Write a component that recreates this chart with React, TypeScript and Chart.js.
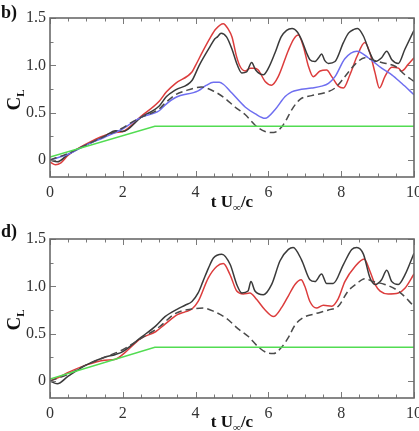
import React, { useEffect, useRef } from 'react';
import { Chart, registerables } from 'chart.js';

Chart.register(...registerables);

type Pt = [number, number];

// Axis ranges and tick labels
const X_MIN = 0;
const X_MAX = 10;
const Y_MIN = -0.18;
const Y_MAX = 1.5;
const xTickValues = [0, 2, 4, 6, 8, 10];
const yTickValues = [0, 0.5, 1, 1.5];
const xMinorStep = 0.5;
const yMinorStep = 0.25;

// Panel b) lift coefficient histories (t U∞/c, C_L)
const bBlack: Pt[] = [
  [0, 0], [0.2, -0.02], [0.5, 0.06], [1, 0.16], [1.5, 0.25], [1.8, 0.31], [2.0, 0.3], [2.5, 0.45],
  [3.0, 0.57], [3.2, 0.67], [3.45, 0.74], [3.9, 0.84], [4.1, 1.0], [4.4, 1.2], [4.53, 1.28], [4.6, 1.3],
  [4.7, 1.34], [4.85, 1.3], [5.0, 1.17], [5.15, 1.0], [5.27, 0.92], [5.4, 0.93], [5.54, 1.03], [5.65, 0.95],
  [5.86, 0.9], [6.0, 0.97], [6.18, 1.13], [6.35, 1.3], [6.5, 1.37], [6.65, 1.39], [6.8, 1.35], [6.91, 1.27],
  [7.05, 1.13], [7.14, 1.06], [7.28, 1.04], [7.38, 1.08], [7.46, 1.12], [7.55, 1.05], [7.65, 1.02], [7.83, 1.04],
  [8.06, 1.24], [8.2, 1.34], [8.35, 1.38], [8.45, 1.39], [8.61, 1.31], [8.79, 1.13], [8.93, 1.04], [9.11, 1.08],
  [9.25, 1.15], [9.39, 1.06], [9.57, 1.02], [9.75, 1.17], [10, 1.37],
];
const bRed: Pt[] = [
  [0, -0.02], [0.15, -0.05], [0.3, -0.03], [0.5, 0.05], [1, 0.17], [1.5, 0.26], [1.8, 0.29], [2.0, 0.3],
  [2.5, 0.46], [3.0, 0.62], [3.2, 0.72], [3.45, 0.81], [3.9, 0.93], [4.0, 1.0], [4.2, 1.15], [4.4, 1.29],
  [4.55, 1.38], [4.76, 1.44], [4.9, 1.38], [5.0, 1.3], [5.12, 1.1], [5.22, 0.99], [5.36, 0.94], [5.5, 0.97],
  [5.62, 0.97], [5.72, 0.95], [5.91, 0.83], [6.09, 0.79], [6.27, 0.88], [6.55, 1.16], [6.7, 1.28], [6.82, 1.32],
  [6.96, 1.2], [7.1, 0.99], [7.23, 0.88], [7.42, 0.94], [7.6, 0.95], [7.74, 0.88], [7.92, 0.78], [8.06, 0.76],
  [8.24, 0.9], [8.43, 1.09], [8.65, 1.24], [8.79, 1.13], [8.93, 0.92], [9.05, 0.76], [9.2, 0.88], [9.39, 0.98],
  [9.57, 0.97], [9.66, 0.94], [9.84, 1.01], [10, 1.08],
];
const bBlue: Pt[] = [
  [0, 0], [0.5, 0.06], [1, 0.16], [1.5, 0.24], [2, 0.33], [2.5, 0.45], [3, 0.52], [3.16, 0.58],
  [3.45, 0.66], [4.07, 0.73], [4.3, 0.79], [4.49, 0.82], [4.65, 0.82], [4.76, 0.8], [4.99, 0.71], [5.36, 0.56],
  [5.63, 0.49], [5.91, 0.44], [6.18, 0.53], [6.46, 0.67], [6.64, 0.72], [6.82, 0.74], [7.19, 0.76], [7.46, 0.78],
  [7.65, 0.81], [7.83, 0.88], [8.1, 1.07], [8.43, 1.15], [8.74, 1.08], [9.11, 0.97], [9.39, 0.9], [9.66, 0.81],
  [10, 0.69],
];
const bDashed: Pt[] = [
  [0, 0], [0.5, 0.07], [1, 0.16], [1.5, 0.25], [2, 0.34], [2.3, 0.41], [2.5, 0.45], [3, 0.54],
  [3.16, 0.6], [3.45, 0.69], [3.71, 0.73], [4.16, 0.77], [4.53, 0.72], [4.81, 0.65], [5.08, 0.56], [5.36, 0.48],
  [5.63, 0.37], [5.91, 0.3], [6.14, 0.29], [6.37, 0.35], [6.5, 0.43], [6.64, 0.53], [6.87, 0.64], [7.19, 0.68],
  [7.55, 0.71], [7.83, 0.76], [8.1, 0.88], [8.38, 1.01], [8.65, 1.08], [8.84, 1.06], [9.11, 1.03], [9.48, 0.99],
  [9.75, 0.9], [10, 0.83],
];
const bGreen: Pt[] = [[0, 0.03], [2.88, 0.355], [10, 0.355]];

// Panel d) lift coefficient histories
const dBlack: Pt[] = [
  [0, 0], [0.2, -0.03], [0.5, 0.05], [1, 0.17], [1.5, 0.25], [1.8, 0.28], [2, 0.31], [2.5, 0.46],
  [2.9, 0.58], [3.16, 0.68], [3.5, 0.76], [3.71, 0.8], [3.9, 0.84], [4.07, 0.93], [4.2, 1.05], [4.35, 1.19],
  [4.49, 1.3], [4.72, 1.34], [4.95, 1.23], [5.13, 1.02], [5.27, 0.93], [5.44, 0.95], [5.52, 1.05], [5.63, 0.95],
  [5.86, 0.91], [6.09, 1.02], [6.32, 1.27], [6.55, 1.39], [6.68, 1.41], [6.91, 1.28], [7.14, 1.07], [7.28, 1.05],
  [7.46, 1.13], [7.6, 1.03], [7.78, 1.03], [8.06, 1.23], [8.29, 1.39], [8.43, 1.41], [8.61, 1.34], [8.79, 1.09],
  [8.93, 1.02], [9.11, 1.07], [9.25, 1.17], [9.39, 1.05], [9.57, 1.02], [9.75, 1.12], [10, 1.35],
];
const dRed: Pt[] = [
  [0, 0], [0.3, 0.05], [0.5, 0.09], [1, 0.17], [1.5, 0.22], [1.8, 0.23], [2, 0.28], [2.5, 0.45],
  [2.9, 0.52], [3.16, 0.6], [3.5, 0.7], [3.71, 0.73], [3.9, 0.76], [4.07, 0.84], [4.35, 1.09], [4.58, 1.21],
  [4.76, 1.24], [4.95, 1.12], [5.13, 0.95], [5.31, 0.92], [5.49, 0.93], [5.68, 0.86], [5.91, 0.75], [6.14, 0.68],
  [6.37, 0.78], [6.55, 0.9], [6.73, 1.02], [6.9, 1.07], [7.0, 1.0], [7.14, 0.84], [7.32, 0.77], [7.51, 0.8],
  [7.74, 0.79], [7.92, 0.87], [8.1, 1.05], [8.38, 1.21], [8.63, 1.29], [8.79, 1.16], [8.93, 1.02], [9.07, 0.95],
  [9.29, 0.92], [9.57, 0.93], [9.75, 0.98], [10, 1.13],
];
const dDashed: Pt[] = [
  [0, 0], [0.5, 0.07], [1, 0.17], [1.5, 0.25], [2, 0.33], [2.3, 0.4], [2.5, 0.45], [3, 0.57],
  [3.43, 0.71], [3.89, 0.76], [4.21, 0.77], [4.53, 0.73], [4.85, 0.66], [5.17, 0.55], [5.45, 0.47], [5.72, 0.36],
  [5.95, 0.3], [6.14, 0.29], [6.37, 0.36], [6.55, 0.46], [6.73, 0.59], [6.96, 0.67], [7.28, 0.71], [7.65, 0.75],
  [7.92, 0.79], [8.19, 0.95], [8.43, 1.03], [8.65, 1.08], [8.88, 1.05], [9.2, 1.02], [9.57, 0.95], [10, 0.79],
];
const dGreen: Pt[] = [[0, 0.02], [2.88, 0.355], [10, 0.355]];

const BLACK = '#3a3a3a';
const RED = '#dc3c3c';
const BLUE = '#6e6ef0';
const GREEN = '#52dc52';
const DASHED = '#4a4a4a';

interface Series {
  pts: Pt[];
  color: string;
  dash?: number[];
  straight?: boolean;
}

interface PanelSpec {
  tag: string;
  height: number;
  top: number;
  bottom: number;
  tagBaseline: number;
  clCenter: number;
  titleBaseline: number;
  series: Series[];
}

const LEFT = 50;
const RIGHT = 414;
const WIDTH = 419;
const SERIF = '"Liberation Serif", "Times New Roman", serif';

const panels: PanelSpec[] = [
  {
    tag: 'b)', height: 215, top: 18, bottom: 177, tagBaseline: 18, clCenter: 100, titleBaseline: 207,
    series: [
      { pts: bGreen, color: GREEN, straight: true },
      { pts: bDashed, color: DASHED, dash: [7, 4] },
      { pts: bBlue, color: BLUE },
      { pts: bBlack, color: BLACK },
      { pts: bRed, color: RED },
    ],
  },
  {
    tag: 'd)', height: 216, top: 24, bottom: 183, tagBaseline: 22, clCenter: 105, titleBaseline: 212,
    series: [
      { pts: dGreen, color: GREEN, straight: true },
      { pts: dDashed, color: DASHED, dash: [7, 4] },
      { pts: dBlack, color: BLACK },
      { pts: dRed, color: RED },
    ],
  },
];

function decorPlugin(spec: PanelSpec) {
  return {
    id: 'panelDecor',
    afterDraw(chart: any) {
      const { ctx, chartArea: a, scales } = chart;
      const xs = scales.x;
      const ys = scales.y;
      ctx.save();

      // inward ticks on all four sides
      ctx.strokeStyle = '#7a7a7a';
      ctx.lineWidth = 1;
      ctx.beginPath();
      for (let v = X_MIN; v <= X_MAX + 1e-9; v += xMinorStep) {
        const px = Math.round(xs.getPixelForValue(v)) + 0.5;
        const major = xTickValues.some((t) => Math.abs(t - v) < 1e-6);
        const len = major ? 6 : 3.5;
        ctx.moveTo(px, a.bottom); ctx.lineTo(px, a.bottom - len);
        ctx.moveTo(px, a.top); ctx.lineTo(px, a.top + len);
      }
      for (let v = 0; v <= Y_MAX + 1e-9; v += yMinorStep) {
        const py = Math.round(ys.getPixelForValue(v)) + 0.5;
        const major = yTickValues.some((t) => Math.abs(t - v) < 1e-6);
        const len = major ? 6 : 3.5;
        ctx.moveTo(a.left, py); ctx.lineTo(a.left + len, py);
        ctx.moveTo(a.right, py); ctx.lineTo(a.right - len, py);
      }
      ctx.stroke();

      // frame
      ctx.strokeStyle = '#6a6a6a';
      ctx.lineWidth = 1.6;
      ctx.strokeRect(a.left, a.top, a.right - a.left, a.bottom - a.top);

      ctx.fillStyle = '#111';
      // panel tag
      ctx.font = `bold 18px ${SERIF}`;
      ctx.textAlign = 'left';
      ctx.textBaseline = 'alphabetic';
      ctx.fillText(spec.tag, 1, spec.tagBaseline);

      // x-axis title: t U∞/c
      const big = `bold 17px ${SERIF}`;
      const small = `bold 11px ${SERIF}`;
      const parts = [
        { s: 't U', f: big, dy: 0 },
        { s: '∞', f: small, dy: 4 },
        { s: '/c', f: big, dy: 0 },
      ];
      let total = 0;
      for (const p of parts) { ctx.font = p.f; total += ctx.measureText(p.s).width; }
      let x = (a.left + a.right) / 2 - total / 2;
      for (const p of parts) {
        ctx.font = p.f;
        ctx.fillText(p.s, x, spec.titleBaseline + p.dy);
        x += ctx.measureText(p.s).width;
      }

      // y-axis title: C_L rotated
      ctx.translate(20, spec.clCenter);
      ctx.rotate(-Math.PI / 2);
      ctx.font = `bold 19px ${SERIF}`;
      const wC = ctx.measureText('C').width;
      ctx.font = `bold 11px ${SERIF}`;
      const wL = ctx.measureText('L').width;
      const start = -(wC + wL) / 2;
      ctx.font = `bold 19px ${SERIF}`;
      ctx.fillText('C', start, 0);
      ctx.font = `bold 11px ${SERIF}`;
      ctx.fillText('L', start + wC, 4);

      ctx.restore();
    },
  };
}

function Panel({ spec }: { spec: PanelSpec }) {
  const ref = useRef<HTMLCanvasElement | null>(null);

  useEffect(() => {
    if (!ref.current) return;
    const tickFont = { family: SERIF, size: 16 };
    const chart = new Chart(ref.current, {
      type: 'line',
      data: {
        datasets: spec.series.map((s) => ({
          data: s.pts.map(([x, y]) => ({ x, y })),
          borderColor: s.color,
          borderWidth: 1.5,
          borderDash: s.dash || [],
          pointRadius: 0,
          fill: false,
          tension: s.straight ? 0 : 0.4,
          cubicInterpolationMode: s.straight ? ('default' as const) : ('monotone' as const),
        })),
      },
      options: {
        animation: false,
        responsive: false,
        devicePixelRatio: 1,
        layout: {
          autoPadding: false,
          padding: { left: 0, right: WIDTH - RIGHT, top: spec.top, bottom: 0 },
        },
        plugins: { legend: { display: false }, tooltip: { enabled: false } },
        scales: {
          x: {
            type: 'linear',
            min: X_MIN,
            max: X_MAX,
            grid: { display: false, drawTicks: false },
            border: { display: false },
            ticks: { font: tickFont, color: '#333', padding: 6, maxRotation: 0, autoSkip: false },
            afterBuildTicks: (scale: any) => { scale.ticks = xTickValues.map((v) => ({ value: v })); },
            afterFit: (scale: any) => {
              scale.height = spec.height - spec.bottom;
              scale.paddingLeft = 0;
              scale.paddingRight = 0;
            },
          },
          y: {
            type: 'linear',
            min: Y_MIN,
            max: Y_MAX,
            grid: { display: false, drawTicks: false },
            border: { display: false },
            ticks: { font: tickFont, color: '#333', padding: 4 },
            afterBuildTicks: (scale: any) => { scale.ticks = yTickValues.map((v) => ({ value: v })); },
            afterFit: (scale: any) => {
              scale.width = LEFT;
              scale.paddingTop = 0;
              scale.paddingBottom = 0;
            },
          },
        },
      },
      plugins: [decorPlugin(spec)],
    } as any);
    return () => chart.destroy();
  }, [spec]);

  return <canvas ref={ref} width={WIDTH} height={spec.height} style={{ display: 'block', width: WIDTH, height: spec.height }} />;
}

export default function App() {
  return (
    <div style={{ position: 'absolute', left: 0, top: 0, width: WIDTH, height: 431, background: '#fff' }}>
      {panels.map((p) => (
        <Panel key={p.tag} spec={p} />
      ))}
    </div>
  );
}
